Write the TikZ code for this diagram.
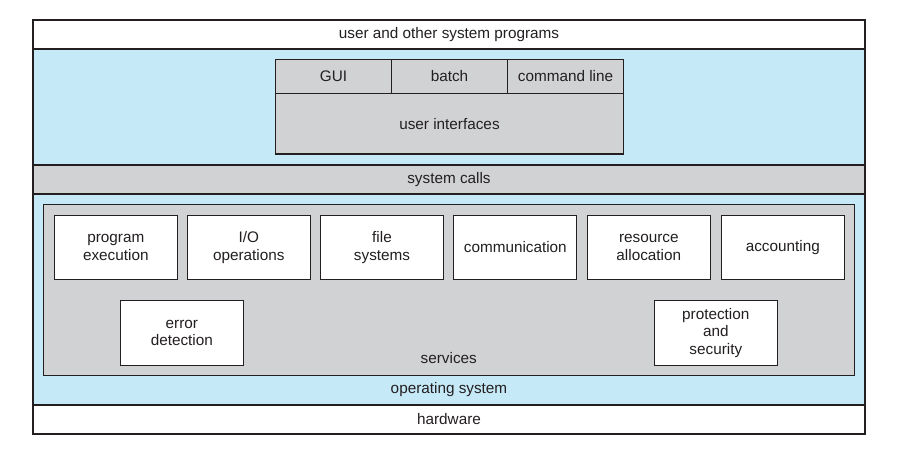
\documentclass[tikz,border=0pt]{standalone}
\usepackage{fontspec}
\setmainfont{Liberation Sans}
\definecolor{osblue}{HTML}{C6E9F8}
\definecolor{layergray}{HTML}{D1D2D4}
\definecolor{inkdark}{HTML}{231F20}
\begin{document}
\begin{tikzpicture}[x=1pt,y=-1pt,
  every node/.style={inner sep=0pt, outer sep=0pt, text=inkdark,
    font=\fontsize{15.3}{17.5}\selectfont, align=center},
  band/.style={draw=inkdark, line width=1.3pt, rectangle},
  whitebox/.style={band, fill=white},
  bluebox/.style={band, fill=osblue},
  graybox/.style={band, fill=layergray},
  svc/.style={whitebox, minimum width=123pt, minimum height=64pt},
  lbl/.style={draw=none, fill=none}]
\useasboundingbox (0,0) rectangle (906,461);

% layered bands, top to bottom
\node[whitebox, minimum width=832pt, minimum height=29pt] (progs) at (449,34.5) {user and other system programs};
\node[bluebox, minimum width=832pt, minimum height=116pt] (uiband) at (449,107) {};
\node[graybox, minimum width=832pt, minimum height=29pt] (syscalls) at (449,179.5) {system calls};
\node[bluebox, minimum width=832pt, minimum height=211pt] (os) at (449,299.5) {};
\node[whitebox, minimum width=832pt, minimum height=29pt] (hw) at (449,419.5) {hardware};
\node[lbl] (oslabel) at (449,389.5) {operating system};

% user interface block
\node[graybox, minimum width=116pt, minimum height=34pt] (gui) at (333.5,76.5) {GUI};
\node[graybox, minimum width=116pt, minimum height=34pt] (batch) at (449.5,76.5) {batch};
\node[graybox, minimum width=116pt, minimum height=34pt] (cmd) at (565.5,76.5) {command line};
\node[graybox, minimum width=348pt, minimum height=60.5pt] (ui) at (449.5,123.75) {user interfaces};

% services block
\node[graybox, minimum width=811pt, minimum height=171pt] (services) at (448.8,289.8) {};
\node[lbl] (svclabel) at (448.8,358.5) {services};

\node[svc] (exec) at (115.8,247.3) {program\\execution};
\node[svc] (io)   at (248.8,247.3) {I/O\\operations};
\node[svc] (fs)   at (382.0,247.3) {file\\systems};
\node[svc] (comm) at (515.3,247.3) {communication};
\node[svc] (res)  at (648.8,247.3) {resource\\allocation};
\node[svc] (acct) at (782.8,247.3) {accounting};

\node[svc, minimum height=65pt] (err)  at (181.8,332.8) {error\\detection};
\node[svc, minimum height=65pt] (prot) at (715.8,332.8) {protection\\and\\security};
\end{tikzpicture}
\end{document}
